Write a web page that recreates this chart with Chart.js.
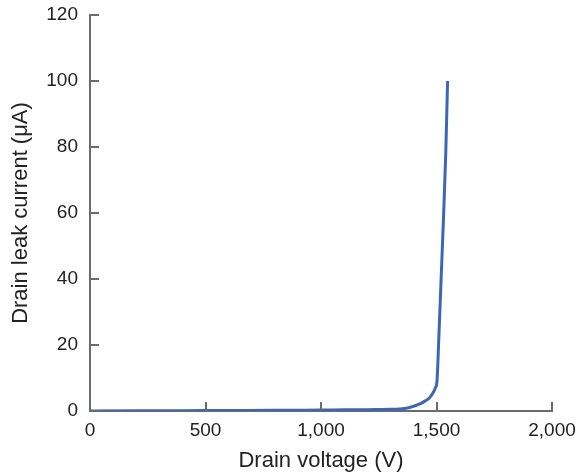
<!DOCTYPE html>
<html>
<head>
<meta charset="utf-8">
<script src="https://cdn.jsdelivr.net/npm/chart.js@4/dist/chart.umd.min.js"></script>
<style>
  html, body { margin: 0; padding: 0; background: #fff; }
  #wrap { width: 580px; height: 472px; }
</style>
</head>
<body>
<div id="wrap"><canvas id="leakChart" width="580" height="472"></canvas></div>
<script>
const voltage = [0, 200, 400, 600, 800, 1000, 1100, 1200, 1250, 1300, 1340, 1380, 1420, 1450, 1470, 1485, 1495, 1502, 1510, 1520, 1530, 1540, 1548];
const current = [0, 0.05, 0.1, 0.15, 0.2, 0.3, 0.35, 0.4, 0.45, 0.5, 0.6, 1.0, 1.9, 3.0, 4.0, 5.5, 7.0, 9, 22, 40, 58, 78, 100];
const xTicks = [0, 500, 1000, 1500, 2000];
const yTicks = [0, 20, 40, 60, 80, 100, 120];

const axisColor = '#6b6b6b';
const font = 'Liberation Sans, Arial, Helvetica, sans-serif';

// tick marks in the reference point into the plot, so draw them by hand
const inwardTicks = {
    id: 'inwardTicks',
    afterDraw(chart) {
        const c = chart.ctx;
        const xs = chart.scales.x, ys = chart.scales.y;
        c.save();
        c.strokeStyle = axisColor;
        c.lineWidth = 2;
        c.beginPath();
        xTicks.forEach(v => {
            const px = Math.round(xs.getPixelForValue(v));
            c.moveTo(px, xs.top);
            c.lineTo(px, xs.top - 9);
        });
        yTicks.forEach(v => {
            const py = Math.round(ys.getPixelForValue(v));
            c.moveTo(ys.right, py);
            c.lineTo(ys.right + 9, py);
        });
        c.stroke();
        c.restore();
    }
};

const ctx = document.getElementById('leakChart').getContext('2d');
const leakChart = new Chart(ctx, {
    type: 'line',
    data: {
        datasets: [{
            label: 'Drain leak current',
            data: voltage.map((v, i) => ({ x: v, y: current[i] })),
            borderColor: '#3d66b5',
            borderWidth: 3,
            pointRadius: 0,
            cubicInterpolationMode: 'monotone',
            fill: false
        }]
    },
    options: {
        responsive: false,
        animation: false,
        layout: { padding: { top: 15, right: 28, left: 0, bottom: 0 } },
        plugins: {
            legend: { display: false },
            tooltip: { enabled: false }
        },
        scales: {
            x: {
                type: 'linear',
                min: 0,
                max: 2000,
                afterFit: s => { s.height = 61; s.paddingLeft = 0; s.paddingRight = 0; },
                afterBuildTicks: s => { s.ticks = xTicks.map(v => ({ value: v })); },
                grid: { display: false, drawTicks: false },
                border: { display: true, color: axisColor, width: 2 },
                ticks: {
                    padding: 8,
                    color: '#222',
                    font: { family: font, size: 19 },
                    maxRotation: 0,
                    callback: v => v.toLocaleString('en-US')
                },
                title: {
                    display: true,
                    text: 'Drain voltage (V)',
                    color: '#222',
                    font: { family: font, size: 22, lineHeight: 1 },
                    padding: { top: 0, bottom: 0 }
                }
            },
            y: {
                min: 0,
                max: 120,
                afterFit: s => { s.width = 90; s.paddingTop = 0; s.paddingBottom = 0; },
                afterBuildTicks: s => { s.ticks = yTicks.map(v => ({ value: v })); },
                grid: { display: false, drawTicks: false },
                border: { display: true, color: axisColor, width: 2 },
                ticks: {
                    padding: 12,
                    color: '#222',
                    font: { family: font, size: 19 }
                },
                title: {
                    display: true,
                    text: 'Drain leak current (μA)',
                    color: '#222',
                    font: { family: font, size: 22, lineHeight: 1 },
                    padding: { top: 10, bottom: 0 }
                }
            }
        }
    },
    plugins: [inwardTicks]
});
</script>
</body>
</html>
